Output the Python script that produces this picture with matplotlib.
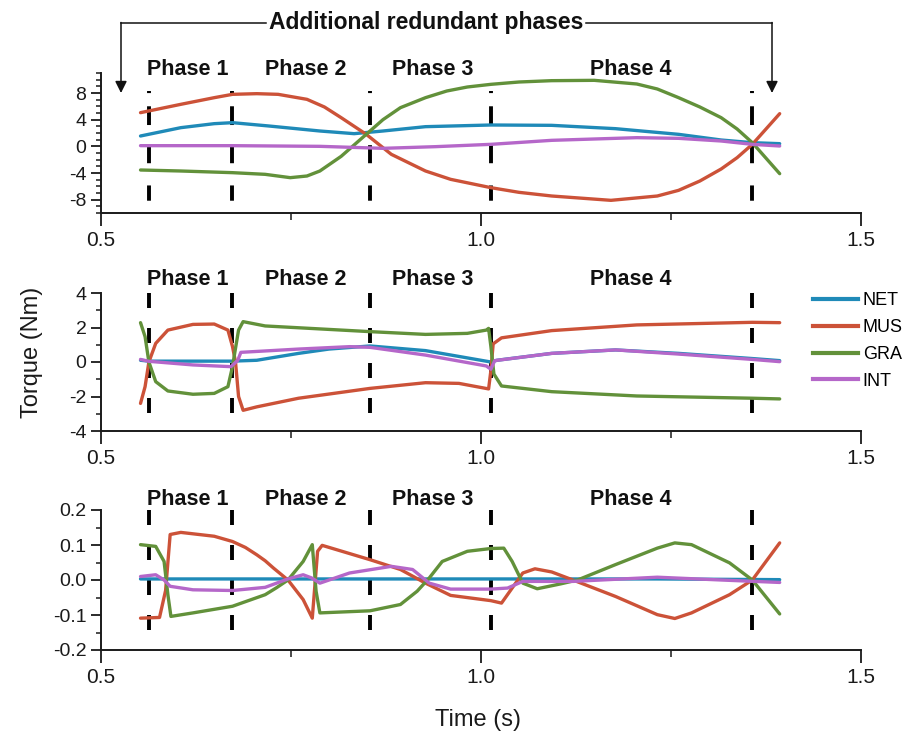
import matplotlib
matplotlib.use("Agg")
import matplotlib.pyplot as plt
from matplotlib import font_manager
from matplotlib.lines import Line2D
from matplotlib.patches import FancyArrowPatch
from matplotlib.ticker import MultipleLocator, FormatStrFormatter
from matplotlib.transforms import blended_transform_factory

# phase boundaries (s) and phase label centres
phase_bounds = [0.563, 0.673, 0.854, 1.013, 1.357]
phase_names = ["Phase 1", "Phase 2", "Phase 3", "Phase 4"]
phase_label_t = [0.614, 0.770, 0.937, 1.197]

series_names = ["NET", "MUS", "GRA", "INT"]
series_colors = ["#1f8ab8", "#cc5238", "#62913a", "#b567c9"]

# ---- top panel (Nm)
top_net_t = [0.552, 0.605, 0.649, 0.673, 0.721, 0.788, 0.833, 0.871, 0.927, 1.013, 1.093, 1.177, 1.260, 1.316, 1.357, 1.393]
top_net = [1.55, 2.8, 3.4, 3.55, 3.05, 2.3, 1.9, 2.3, 2.95, 3.2, 3.15, 2.65, 1.8, 0.95, 0.55, 0.4]
top_mus_t = [0.552, 0.605, 0.649, 0.673, 0.705, 0.733, 0.771, 0.794, 0.816, 0.849, 0.882, 0.927, 0.960, 1.013, 1.050, 1.093, 1.171, 1.232, 1.260, 1.288, 1.316, 1.337, 1.357, 1.393]
top_mus = [5.05, 6.3, 7.3, 7.8, 7.9, 7.8, 7.05, 5.9, 4.3, 1.8, -1.2, -3.7, -4.95, -6.2, -6.9, -7.45, -8.1, -7.45, -6.6, -5.2, -3.4, -1.7, 0.3, 4.9]
top_gra_t = [0.552, 0.605, 0.673, 0.716, 0.749, 0.771, 0.788, 0.816, 0.833, 0.854, 0.871, 0.894, 0.927, 0.955, 0.982, 1.013, 1.050, 1.093, 1.149, 1.205, 1.232, 1.260, 1.288, 1.316, 1.337, 1.357, 1.393]
top_gra = [-3.55, -3.7, -3.95, -4.2, -4.7, -4.45, -3.7, -1.5, 0.2, 2.3, 4.0, 5.8, 7.3, 8.3, 8.9, 9.3, 9.65, 9.85, 9.9, 9.35, 8.6, 7.3, 5.9, 4.3, 2.6, 0.55, -4.1]
top_int_t = [0.552, 0.673, 0.788, 0.871, 0.940, 1.013, 1.093, 1.205, 1.260, 1.316, 1.357, 1.393]
top_int = [0.1, 0.1, 0.0, -0.3, -0.05, 0.3, 0.9, 1.3, 1.2, 0.8, 0.3, 0.05]

# ---- middle panel (Nm)
mid_net_t = [0.552, 0.563, 0.673, 0.705, 0.760, 0.800, 0.854, 0.927, 1.013, 1.021, 1.093, 1.177, 1.260, 1.357, 1.393]
mid_net = [0.1, 0.05, 0.05, 0.1, 0.5, 0.75, 0.93, 0.66, 0.0, 0.1, 0.5, 0.7, 0.5, 0.2, 0.08]
mid_mus_t = [0.552, 0.558, 0.563, 0.572, 0.588, 0.621, 0.649, 0.667, 0.673, 0.677, 0.681, 0.687, 0.705, 0.760, 0.854, 0.927, 0.971, 1.010, 1.013, 1.016, 1.027, 1.093, 1.205, 1.357, 1.393]
mid_mus = [-2.4, -1.43, 0.0, 1.08, 1.85, 2.18, 2.2, 1.85, 0.9, 0.0, -2.0, -2.8, -2.6, -2.1, -1.53, -1.2, -1.24, -1.56, -0.5, 1.05, 1.4, 1.82, 2.15, 2.3, 2.28]
mid_gra_t = [0.552, 0.558, 0.563, 0.572, 0.588, 0.621, 0.649, 0.667, 0.673, 0.677, 0.681, 0.687, 0.716, 0.854, 0.927, 0.982, 1.007, 1.010, 1.013, 1.017, 1.027, 1.093, 1.205, 1.357, 1.393]
mid_gra = [2.28, 1.47, 0.0, -1.14, -1.68, -1.87, -1.82, -1.43, -0.27, 0.8, 1.85, 2.34, 2.09, 1.76, 1.6, 1.66, 1.85, 1.95, 0.9, -0.7, -1.39, -1.72, -1.97, -2.1, -2.14]
mid_int_t = [0.552, 0.563, 0.621, 0.671, 0.680, 0.684, 0.760, 0.827, 0.854, 0.927, 1.007, 1.013, 1.018, 1.093, 1.177, 1.260, 1.357, 1.393]
mid_int = [0.15, 0.04, -0.17, -0.27, 0.1, 0.56, 0.75, 0.89, 0.85, 0.4, -0.23, -0.42, 0.08, 0.5, 0.7, 0.46, 0.15, 0.02]

# ---- bottom panel (Nm)
bot_net_t = [0.552, 0.746, 1.013, 1.232, 1.393]
bot_net = [0.003, 0.003, 0.003, 0.003, 0.001]
bot_mus_t = [0.552, 0.577, 0.585, 0.591, 0.605, 0.649, 0.673, 0.690, 0.705, 0.716, 0.727, 0.746, 0.766, 0.778, 0.785, 0.791, 0.854, 0.894, 0.927, 0.960, 1.013, 1.027, 1.041, 1.055, 1.071, 1.093, 1.121, 1.177, 1.232, 1.255, 1.277, 1.327, 1.357, 1.393]
bot_mus = [-0.109, -0.107, -0.03, 0.13, 0.136, 0.125, 0.11, 0.093, 0.072, 0.055, 0.034, 0.0, -0.056, -0.109, 0.082, 0.099, 0.058, 0.03, -0.009, -0.044, -0.059, -0.066, -0.023, 0.02, 0.032, 0.023, 0.0, -0.047, -0.099, -0.11, -0.094, -0.042, 0.0, 0.106]
bot_gra_t = [0.552, 0.572, 0.583, 0.588, 0.592, 0.621, 0.673, 0.716, 0.731, 0.746, 0.766, 0.778, 0.783, 0.788, 0.854, 0.894, 0.916, 0.932, 0.949, 0.982, 1.013, 1.030, 1.041, 1.055, 1.074, 1.105, 1.127, 1.177, 1.232, 1.255, 1.277, 1.327, 1.357, 1.393]
bot_gra = [0.101, 0.096, 0.053, -0.042, -0.104, -0.094, -0.075, -0.042, -0.022, 0.0, 0.053, 0.101, -0.032, -0.094, -0.088, -0.07, -0.032, 0.006, 0.053, 0.082, 0.09, 0.091, 0.053, -0.009, -0.025, -0.011, 0.0, 0.044, 0.091, 0.106, 0.101, 0.049, 0.0, -0.097]
bot_int_t = [0.552, 0.572, 0.583, 0.591, 0.621, 0.673, 0.716, 0.746, 0.766, 0.777, 0.788, 0.827, 0.882, 0.910, 0.932, 0.960, 1.013, 1.035, 1.055, 1.121, 1.232, 1.316, 1.393]
bot_int = [0.01, 0.015, 0.0, -0.018, -0.028, -0.03, -0.021, 0.003, 0.015, 0.006, -0.009, 0.02, 0.039, 0.03, -0.009, -0.026, -0.026, -0.023, -0.004, -0.004, 0.008, 0.0, -0.007]

W, H = 920, 742


def pick_font(*names):
    for name in names:
        try:
            font_manager.findfont(name, fallback_to_default=False)
            return name
        except ValueError:
            continue
    return "DejaVu Sans"


REGULAR = pick_font("Liberation Sans", "Arial")
NARROW = pick_font("Liberation Sans Narrow", "Liberation Sans")

plt.rcParams["font.family"] = [REGULAR, "DejaVu Sans"]
plt.rcParams["axes.unicode_minus"] = False
plt.rcParams["lines.scale_dashes"] = False


def fx(px):
    return px / W


def fy(py):
    return 1 - py / H


def style_axes(ax, ylim, major, minor, fmt):
    ax.set_xlim(0.5, 1.5)
    ax.set_ylim(*ylim)
    for side in ("top", "right"):
        ax.spines[side].set_visible(False)
    for side in ("left", "bottom"):
        ax.spines[side].set_linewidth(1.4)
        ax.spines[side].set_color("#1a1a1a")
    ax.xaxis.set_major_locator(MultipleLocator(0.5))
    ax.xaxis.set_minor_locator(MultipleLocator(0.25))
    ax.xaxis.set_major_formatter(FormatStrFormatter("%.1f"))
    ax.yaxis.set_major_locator(MultipleLocator(major))
    ax.yaxis.set_minor_locator(MultipleLocator(minor))
    ax.yaxis.set_major_formatter(FormatStrFormatter(fmt))
    ax.tick_params(which="major", direction="out", length=7, width=1.3,
                   labelsize=14, color="#1a1a1a", labelcolor="#1a1a1a")
    ax.tick_params(which="minor", direction="out", length=3.5, width=1.1,
                   color="#1a1a1a")
    ax.tick_params(axis="x", which="major", length=9, pad=4, labelsize=15)
    ax.tick_params(axis="x", which="minor", length=5)
    for lab in ax.get_xticklabels() + ax.get_yticklabels():
        lab.set_fontfamily(NARROW)
    ax.patch.set_alpha(0)


def draw_phases(ax, y_top, y_bottom, dashes):
    for b in phase_bounds:
        ax.plot([b, b], [y_top, y_bottom], color="black", lw=2.8,
                dashes=dashes, dash_capstyle="butt", zorder=1)


def draw_series(ax, data):
    for (t, v), color in zip(data, series_colors):
        ax.plot(t, v, color=color, lw=2.4, solid_capstyle="round",
                solid_joinstyle="round", zorder=3)


fig = plt.figure(figsize=(W / 100, H / 100), dpi=100)

ax_top = fig.add_axes([fx(101), fy(213), 760 / W, 140 / H])
ax_mid = fig.add_axes([fx(101), fy(431), 760 / W, 138 / H])
ax_bot = fig.add_axes([fx(101), fy(650), 760 / W, 140 / H])

style_axes(ax_top, (-10, 11), 4, 1, "%d")
style_axes(ax_mid, (-4, 4), 2, 1, "%d")
style_axes(ax_bot, (-0.2, 0.2), 0.1, 0.05, "%.1f")

draw_phases(ax_top, 8.3, -8.4, (1.5, 9.5, 13.5, 14.5, 13, 16, 11, 60))
draw_phases(ax_mid, 4.0, -3.8, (10.8, 14.4))
draw_phases(ax_bot, 0.2, -0.165, (10.8, 14.4))

draw_series(ax_top, [(top_net_t, top_net), (top_mus_t, top_mus),
                     (top_gra_t, top_gra), (top_int_t, top_int)])
draw_series(ax_mid, [(mid_net_t, mid_net), (mid_mus_t, mid_mus),
                     (mid_gra_t, mid_gra), (mid_int_t, mid_int)])
draw_series(ax_bot, [(bot_net_t, bot_net), (bot_mus_t, bot_mus),
                     (bot_gra_t, bot_gra), (bot_int_t, bot_int)])

# phase names above each panel (x in data, y in figure pixels)
for ax, base_px in ((ax_top, 75), (ax_mid, 285), (ax_bot, 505)):
    trans = blended_transform_factory(ax.transData, fig.transFigure)
    for name, t in zip(phase_names, phase_label_t):
        ax.text(t, fy(base_px), name, transform=trans,
                ha="center", va="baseline", fontsize=15.5, fontweight="bold",
                family=[NARROW, "DejaVu Sans"], color="#111111", clip_on=False)

# legend next to the middle panel
handles = [Line2D([], [], color=c, lw=3) for c in series_colors]
fig.legend(handles, series_names, loc="upper left",
           bbox_to_anchor=(fx(813), fy(292)), frameon=False,
           handlelength=2.5, handletextpad=0.25, labelspacing=0.55,
           borderpad=0, borderaxespad=0, fontsize=13)

fig.text(fx(32), fy(352), "Torque (Nm)", rotation=90, ha="center", va="center",
         fontsize=17, color="#1a1a1a")
fig.text(fx(478), fy(720), "Time (s)", ha="center", va="center",
         fontsize=17, family=[NARROW, "DejaVu Sans"], color="#1a1a1a")

# bracket with arrows marking the additional redundant phases
title = fig.text(fx(426), fy(22.5), "Additional redundant phases", ha="center",
                 va="center", fontsize=16.5, fontweight="bold",
                 family=[NARROW, "DejaVu Sans"], color="#111111")
fig.canvas.draw()
bb = title.get_window_extent().transformed(fig.transFigure.inverted())
line_y = fy(22.5)
left_x, right_x = fx(121), fx(772)
fig.add_artist(Line2D([left_x, bb.x0 - fx(3)], [line_y, line_y],
                      transform=fig.transFigure, color="#111111", lw=1.1))
fig.add_artist(Line2D([bb.x1 + fx(3), right_x], [line_y, line_y],
                      transform=fig.transFigure, color="#111111", lw=1.1))
for x in (left_x, right_x):
    fig.add_artist(FancyArrowPatch((x, line_y), (x, fy(93)),
                                   transform=fig.transFigure,
                                   arrowstyle="-|>,head_length=7,head_width=3.5",
                                   mutation_scale=1, color="#111111", lw=1.1,
                                   shrinkA=0, shrinkB=0))

fig.savefig("out.png", dpi=100)
